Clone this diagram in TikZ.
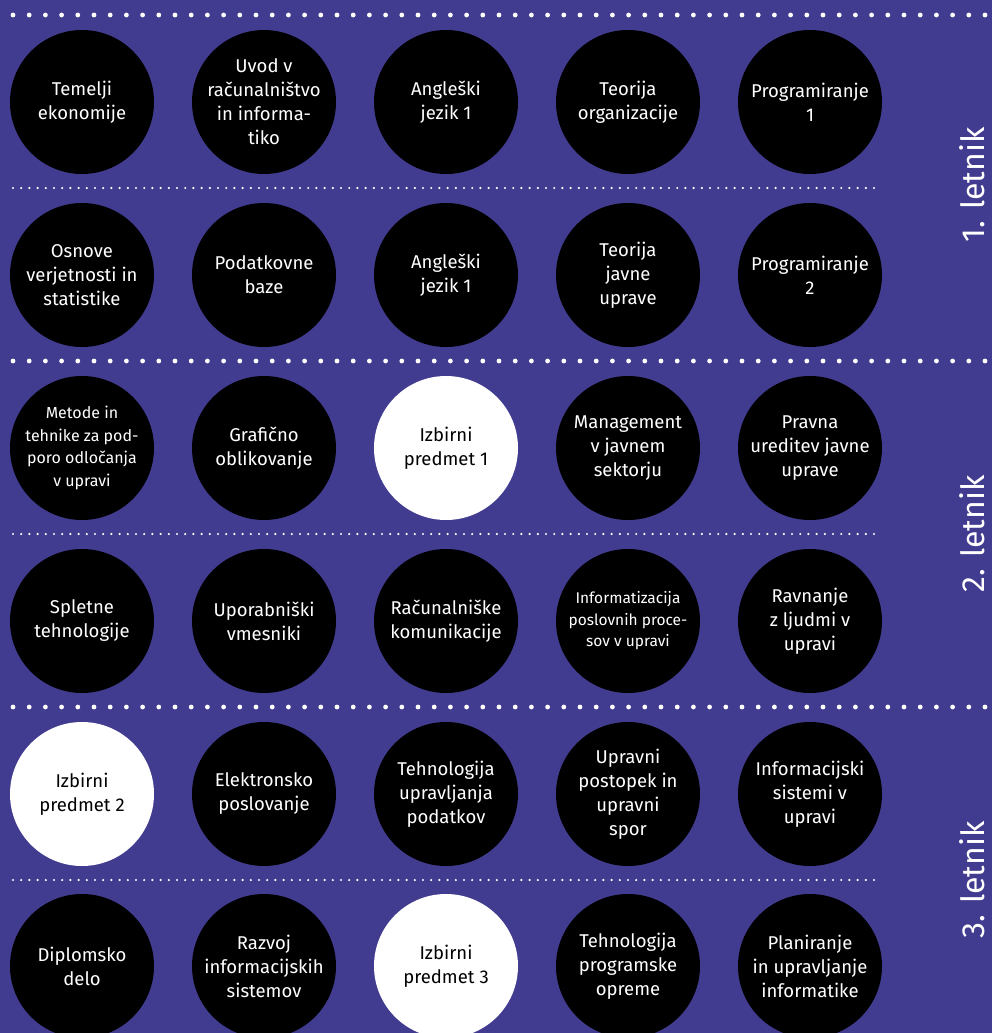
\documentclass[tikz,border=0pt]{standalone}
\usepackage{fontspec}
\setmainfont{Fira Sans}
\definecolor{bg}{RGB}{65,60,143}
\begin{document}
\begin{tikzpicture}[x=1pt,y=-1pt,
  course/.style={circle, fill=black, text=white, minimum size=144pt, inner sep=0pt, align=center, font=\fontsize{18.5}{24}\selectfont},
  elective/.style={course, fill=white, text=black},
  smalltext/.style={font=\fontsize{16}{22.5}\selectfont},
  tinytext/.style={font=\fontsize{15.5}{21.5}\selectfont},
  yearlabel/.style={text=white, rotate=90, font=\fontsize{32}{32}\selectfont}]
\fill[bg] (0,0) rectangle (992,1033);
\useasboundingbox (0,0) rectangle (992,1033);
\clip (0,0) rectangle (992,1033);
% year separators
\foreach \yy in {15,361,707}{
  \foreach \i in {0,...,60}{\fill[white] (13+16.2*\i,\yy) circle (2.4);}
}
% semester separators
\foreach \yy in {188,534,880}{
  \foreach \i in {0,...,105}{\fill[white] (13+8.2*\i,\yy) circle (1.2);}
}
% row 1
\node[course] (c11) at (82,102) {Temelji\\ekonomije};
\node[course] (c12) at (264,102) {Uvod v\\računalništvo\\in informa-\\tiko};
\node[course] (c13) at (446,102) {Angleški\\jezik 1};
\node[course] (c14) at (628,102) {Teorija\\organizacije};
\node[course] (c15) at (810,102) {Programiranje\\1};
% row 2
\node[course] (c21) at (82,275) {Osnove\\verjetnosti in\\statistike};
\node[course] (c22) at (264,275) {Podatkovne\\baze};
\node[course] (c23) at (446,275) {Angleški\\jezik 1};
\node[course] (c24) at (628,275) {Teorija\\javne\\uprave};
\node[course] (c25) at (810,275) {Programiranje\\2};
% row 3
\node[course,smalltext] (c31) at (82,448) {Metode in\\tehnike za pod-\\poro odločanja\\v upravi};
\node[course] (c32) at (264,448) {Grafično\\oblikovanje};
\node[elective] (c33) at (446,448) {Izbirni\\predmet 1};
\node[course] (c34) at (628,448) {Management\\v javnem\\sektorju};
\node[course] (c35) at (810,448) {Pravna\\ureditev javne\\uprave};
% row 4
\node[course] (c41) at (82,621) {Spletne\\tehnologije};
\node[course] (c42) at (264,621) {Uporabniški\\vmesniki};
\node[course] (c43) at (446,621) {Računalniške\\komunikacije};
\node[course,tinytext] (c44) at (628,621) {Informatizacija\\poslovnih proce-\\sov v upravi};
\node[course] (c45) at (810,621) {Ravnanje\\z ljudmi v\\upravi};
% row 5
\node[elective] (c51) at (82,794) {Izbirni\\predmet 2};
\node[course] (c52) at (264,794) {Elektronsko\\poslovanje};
\node[course] (c53) at (446,794) {Tehnologija\\upravljanja\\podatkov};
\node[course] (c54) at (628,794) {Upravni\\postopek in\\upravni\\spor};
\node[course] (c55) at (810,794) {Informacijski\\sistemi v\\upravi};
% row 6
\node[course] (c61) at (82,966) {Diplomsko\\delo};
\node[course] (c62) at (264,966) {Razvoj\\informacijskih\\sistemov};
\node[elective] (c63) at (446,966) {Izbirni\\predmet 3};
\node[course] (c64) at (628,966) {Tehnologija\\programske\\opreme};
\node[course] (c65) at (810,966) {Planiranje\\in upravljanje\\informatike};
% year labels
\node[yearlabel] (y1) at (972,185) {1. letnik};
\node[yearlabel] (y2) at (972,534) {2. letnik};
\node[yearlabel] (y3) at (972,880) {3. letnik};
\end{tikzpicture}
\end{document}
